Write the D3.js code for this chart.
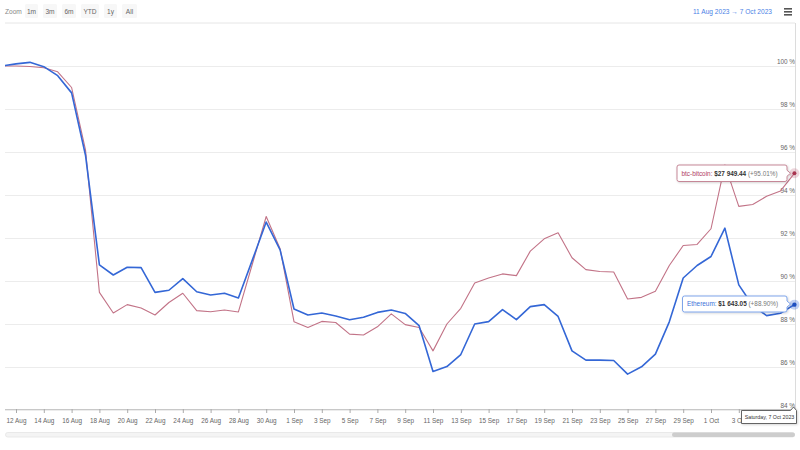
<!DOCTYPE html>
<html>
<head>
<meta charset="utf-8">
<script src="https://cdn.jsdelivr.net/npm/d3@7"></script>
<style>
  html, body { margin: 0; padding: 0; background: #fff; }
  svg { display: block; font-family: "Liberation Sans", Arial, sans-serif; }
</style>
</head>
<body>
<svg id="chart" width="800" height="450"></svg>
<script>
// ---- data (percent of value on 11 Aug 2023) ----
const startDate = "2023-08-11";
const ethPct = [100.0, 100.1, 100.17, 99.97, 99.55, 98.75, 95.85, 90.75, 90.28, 90.64,
  90.62, 89.47, 89.57, 90.11, 89.5, 89.35, 89.43, 89.21, 90.97, 92.74,
  91.45, 88.7, 88.42, 88.51, 88.37, 88.2, 88.31, 88.54, 88.65, 88.49,
  87.92, 85.79, 86.02, 86.58, 88.0, 88.11, 88.67, 88.2, 88.81, 88.9,
  88.35, 86.75, 86.32, 86.32, 86.3, 85.67, 86.01, 86.6, 88.1, 90.14,
  90.72, 91.14, 92.46, 89.82, 88.86, 88.39, 88.5, 88.9];
const btcPct = [100.0, 100.0, 99.98, 99.92, 99.73, 99.0, 96.1, 89.47, 88.51, 88.9,
  88.74, 88.42, 89.0, 89.43, 88.62, 88.57, 88.65, 88.56, 90.78, 93.0,
  91.5, 88.11, 87.84, 88.12, 88.07, 87.53, 87.49, 87.87, 88.47, 87.97,
  87.84, 86.75, 88.0, 88.73, 89.91, 90.14, 90.33, 90.25, 91.39, 91.96,
  92.24, 91.08, 90.53, 90.44, 90.42, 89.16, 89.24, 89.52, 90.72, 91.65,
  91.7, 92.43, 95.4, 93.47, 93.56, 93.94, 94.19, 95.01];
const yTicks = [84, 86, 88, 90, 92, 94, 96, 98, 100];
const zoomButtons = ["1m", "3m", "6m", "YTD", "1y", "All"];
const rangeLabel = ["11 Aug 2023", "7 Oct 2023"];
const btcTip = {name: "btc-bitcoin", price: "$27 949.44", change: "(+95.01%)"};
const ethTip = {name: "Ethereum", price: "$1 643.05", change: "(+88.90%)"};
const dateTip = "Saturday, 7 Oct 2023";

const dates = ethPct.map((_, i) => d3.utcDay.offset(new Date(startDate + "T00:00:00Z"), i));

// ---- layout ----
const svg = d3.select("#chart");
const plotL = 5, plotR = 795, plotT = 23, plotB = 409;
const x = d3.scaleUtc()
  .domain([new Date("2023-08-12T00:00:00Z"), new Date("2023-10-07T00:00:00Z")])
  .range([16, 16 + 56 * 13.9]);
const y = d3.scaleLinear().domain([84, 100]).range([410, 66]);

const FS = 6.4;
const gray = "#666666";

// top controls
svg.append("text").attr("x", 5).attr("y", 13.5).attr("font-size", FS + 0.2).attr("fill", "#888").text("Zoom");
let bx = 25;
const btnW = {"1m": 13, "3m": 14, "6m": 14, "YTD": 18, "1y": 13, "All": 15};
zoomButtons.forEach(b => {
  const w = btnW[b];
  svg.append("rect").attr("x", bx).attr("y", 4).attr("width", w).attr("height", 14)
    .attr("rx", 1.5).attr("fill", "#f7f7f7");
  svg.append("text").attr("x", bx + w / 2).attr("y", 13.5).attr("text-anchor", "middle")
    .attr("font-size", FS + 0.2).attr("fill", "#666").text(b);
  bx += w + 5;
});
svg.append("text").attr("x", 772).attr("y", 13.5).attr("text-anchor", "end")
  .attr("font-size", FS + 0.2).attr("fill", "#4a7fe6")
  .text(rangeLabel[0] + "  \u2192  " + rangeLabel[1]);
// hamburger
[8, 11, 14].forEach(yy => svg.append("rect").attr("x", 784).attr("y", yy).attr("width", 8).attr("height", 1.6).attr("fill", "#555"));

// top line
svg.append("line").attr("x1", plotL).attr("x2", plotR).attr("y1", plotT).attr("y2", plotT)
  .attr("stroke", "#e6e6e6").attr("stroke-width", 1);

// y grid + labels
const yAxis = svg.append("g").attr("transform", `translate(${plotR},0)`)
  .call(d3.axisLeft(y).tickValues(yTicks).tickSize(plotR - plotL).tickFormat(d => d + " %"));
yAxis.select(".domain").remove();
yAxis.selectAll("line").attr("stroke", "#ececec");
yAxis.selectAll("text").attr("x", 0).attr("dy", 0).attr("y", -2.2)
  .attr("text-anchor", "end").attr("font-size", FS).attr("fill", gray)
  .attr("font-family", "Liberation Sans, Arial, sans-serif");

// crosshair
svg.append("line").attr("x1", 795.5).attr("x2", 795.5).attr("y1", plotT).attr("y2", plotB)
  .attr("stroke", "#dcdcdc").attr("stroke-width", 1);

// x axis (labels partly hidden under the date tooltip are clipped)
svg.append("clipPath").attr("id", "xclip").append("rect")
  .attr("x", -400).attr("y", 0).attr("width", 800).attr("height", 20);
const xTickVals = d3.utcDay.range(new Date("2023-08-12T00:00:00Z"), new Date("2023-10-04T00:00:00Z"), 2);
const xAxis = svg.append("g").attr("transform", `translate(0,${plotB})`)
  .call(d3.axisBottom(x).tickValues(xTickVals).tickSize(4).tickPadding(5)
    .tickFormat(d3.utcFormat("%-d %b")));
xAxis.select(".domain").attr("d", `M${plotL},0.5H${plotR}`).attr("stroke", "#c8c8c8");
xAxis.selectAll("line").attr("stroke", "#aaa");
xAxis.selectAll("text").attr("font-size", FS).attr("fill", gray)
  .attr("font-family", "Liberation Sans, Arial, sans-serif");
// clip the "3 Oct" label at the tooltip's left edge (x = 741)
const oct3 = new Date("2023-10-03T00:00:00Z");
const cut = 741 - x(oct3);
svg.append("clipPath").attr("id", "oct3clip").append("rect")
  .attr("x", -20).attr("y", 0).attr("width", 20 + cut).attr("height", 20);
xAxis.selectAll(".tick").filter(d => +d === +oct3).select("text").attr("clip-path", "url(#oct3clip)");

// clip
svg.append("clipPath").attr("id", "clip").append("rect")
  .attr("x", plotL).attr("y", plotT).attr("width", plotR - plotL + 2).attr("height", plotB - plotT);

const line = d3.line().x((d, i) => x(dates[i])).y(d => y(d));
const g = svg.append("g").attr("clip-path", "url(#clip)");
g.append("path").datum(btcPct).attr("d", line).attr("fill", "none")
  .attr("stroke", "#c27387").attr("stroke-width", 1.1).attr("stroke-linejoin", "round");
g.append("path").datum(ethPct).attr("d", line).attr("fill", "none")
  .attr("stroke", "#3467d6").attr("stroke-width", 1.6).attr("stroke-linejoin", "round");

// markers
const last = dates.length - 1;
const mx = x(dates[last]);
svg.append("circle").attr("cx", mx).attr("cy", y(btcPct[last])).attr("r", 5).attr("fill", "#c27387").attr("opacity", 0.3);
svg.append("circle").attr("cx", mx).attr("cy", y(btcPct[last])).attr("r", 2).attr("fill", "#a8344f");
svg.append("circle").attr("cx", mx).attr("cy", y(ethPct[last])).attr("r", 5).attr("fill", "#3467d6").attr("opacity", 0.3);
svg.append("circle").attr("cx", mx).attr("cy", y(ethPct[last])).attr("r", 2.2).attr("fill", "#1f4fc0");

// tooltips
const defs = svg.append("defs");
const f = defs.append("filter").attr("id", "sh").attr("x", "-10%").attr("y", "-20%").attr("width", "130%").attr("height", "160%");
f.append("feDropShadow").attr("dx", 0.8).attr("dy", 0.8).attr("stdDeviation", 1).attr("flood-color", "#000").attr("flood-opacity", 0.18);

function seriesTip(x0, y0, w, h, color, border, tip) {
  const px = x0 + w, cy = y0 + h / 2;
  const p = `M${x0 + 2},${y0} H${px - 2} Q${px},${y0} ${px},${y0 + 2} V${cy - 3} L${px + 3.5},${cy} L${px},${cy + 3} V${y0 + h - 2} Q${px},${y0 + h} ${px - 2},${y0 + h} H${x0 + 2} Q${x0},${y0 + h} ${x0},${y0 + h - 2} V${y0 + 2} Q${x0},${y0} ${x0 + 2},${y0} Z`;
  svg.append("path").attr("d", p).attr("fill", "#fff").attr("stroke", border).attr("stroke-width", 1).attr("filter", "url(#sh)");
  const t = svg.append("text").attr("x", x0 + 4.5).attr("y", cy + 2.3).attr("font-size", FS);
  t.append("tspan").attr("fill", color).text(tip.name + ": ");
  t.append("tspan").attr("fill", "#333").attr("font-weight", "bold").text(tip.price + " ");
  t.append("tspan").attr("fill", "#777").text(tip.change);
}
seriesTip(677, 165, 110, 16.5, "#b0405f", "#c58797", btcTip);
seriesTip(682.5, 296, 104.5, 16, "#3a70d8", "#7ea4ea", ethTip);

// date tooltip
{
  const x0 = 741.5, y0 = 410.5, w = 55, h = 13;
  const p = `M${x0},${y0} H${x0 + w - 6} L${x0 + w - 3},${y0 - 3.5} L${x0 + w},${y0} V${y0 + h} H${x0} Z`;
  svg.append("path").attr("d", p).attr("fill", "#fff").attr("stroke", "#555").attr("stroke-width", 0.9).attr("filter", "url(#sh)");
  svg.append("text").attr("x", x0 + w / 2 + 0.5).attr("y", y0 + 8.8).attr("text-anchor", "middle")
    .attr("font-size", 5.3).attr("fill", "#333").text(dateTip);
}

// scrollbar
svg.append("rect").attr("x", 5.5).attr("y", 432.5).attr("width", 789).attr("height", 4.5).attr("rx", 2.2)
  .attr("fill", "#f4f4f4").attr("stroke", "#e4e4e4").attr("stroke-width", 0.8);
svg.append("rect").attr("x", 672).attr("y", 432.5).attr("width", 123).attr("height", 4.5).attr("rx", 2.2)
  .attr("fill", "#cdcdcd");
</script>
</body>
</html>
